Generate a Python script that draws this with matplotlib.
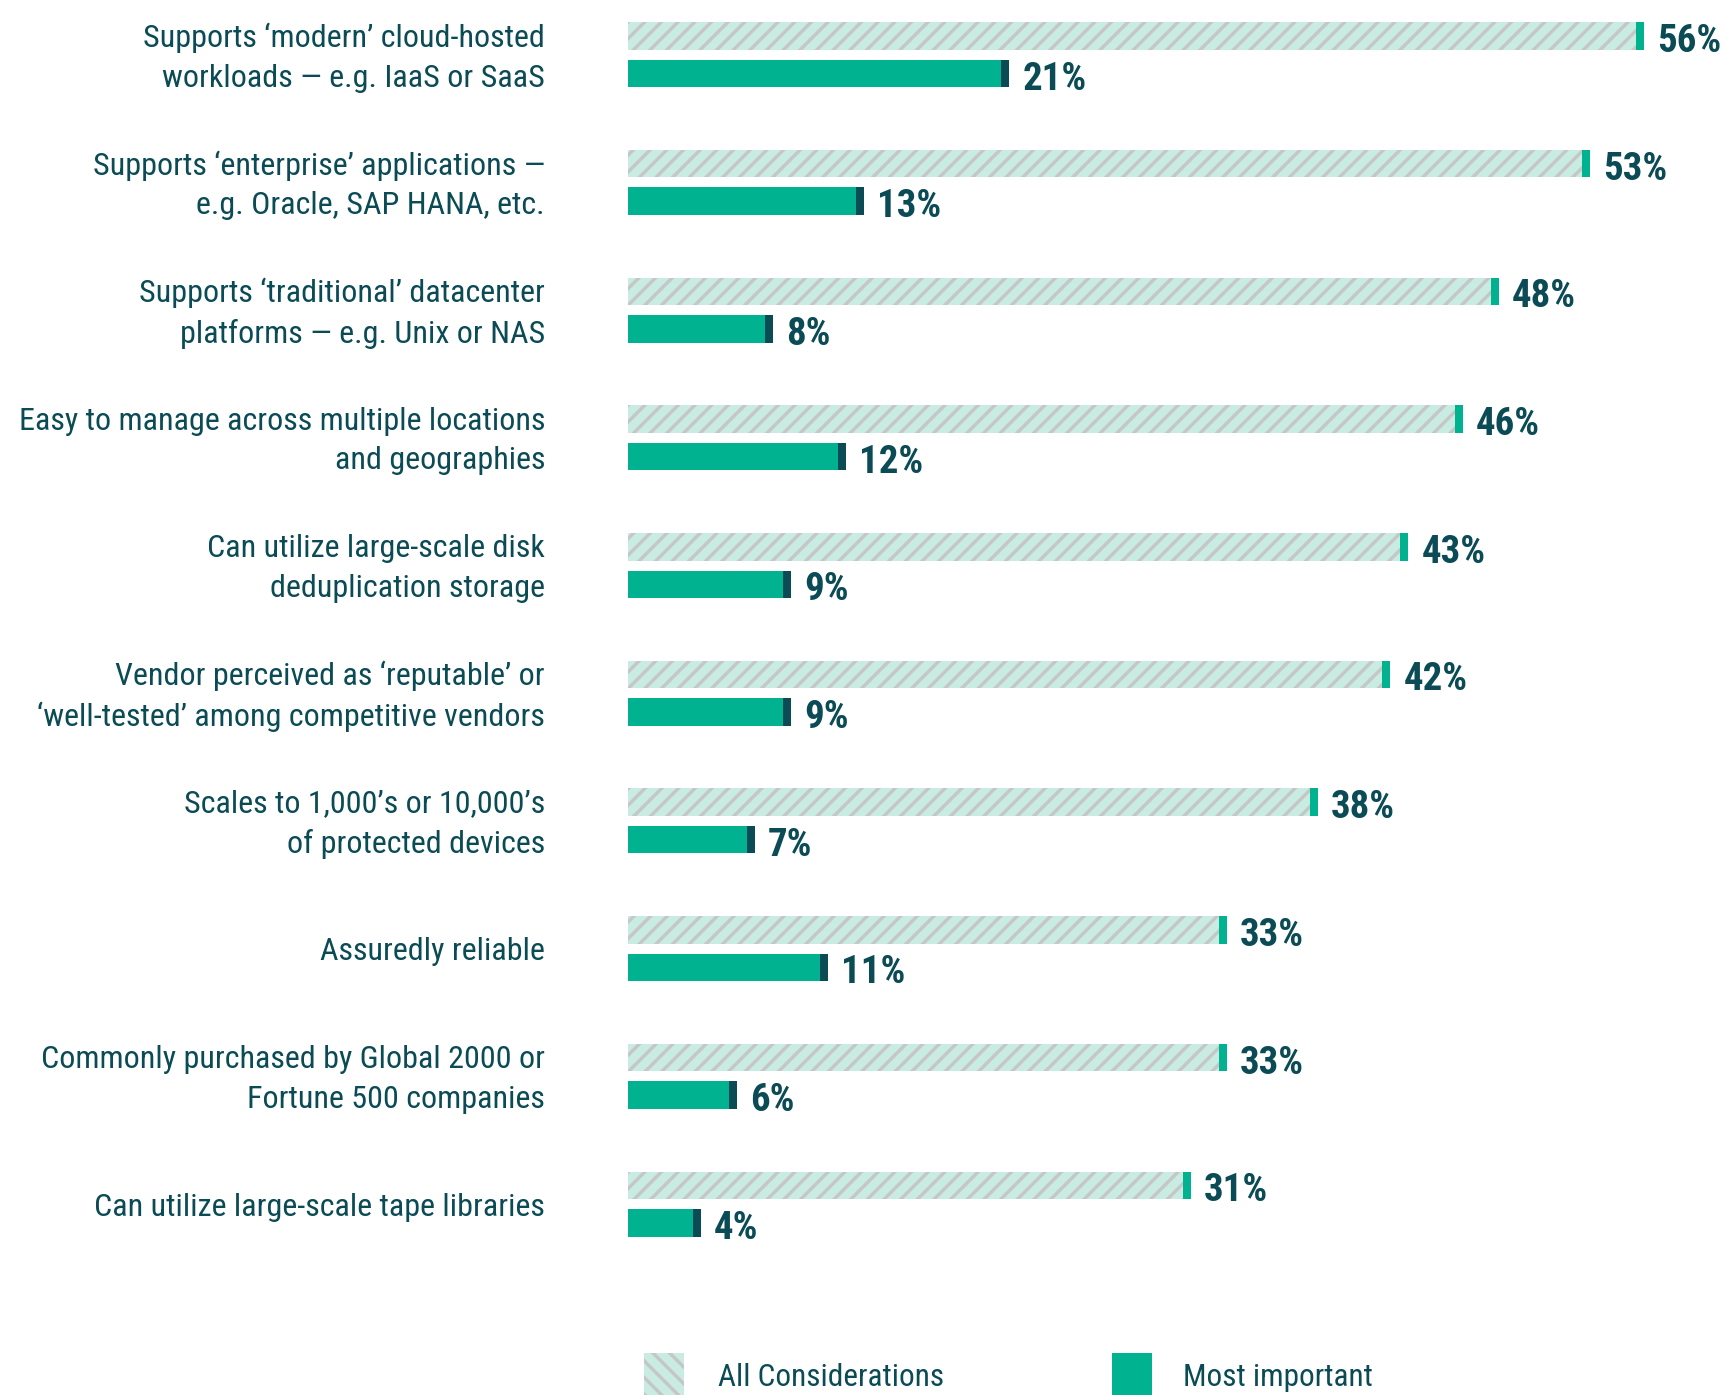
import matplotlib
matplotlib.use("Agg")
import matplotlib.pyplot as plt
from matplotlib.patches import Rectangle

categories = [
    "Supports \u2018modern\u2019 cloud-hosted\nworkloads \u2014 e.g. IaaS or SaaS",
    "Supports \u2018enterprise\u2019 applications \u2014\ne.g. Oracle, SAP HANA, etc.",
    "Supports \u2018traditional\u2019 datacenter\nplatforms \u2014 e.g. Unix or NAS",
    "Easy to manage across multiple locations\nand geographies",
    "Can utilize large-scale disk\ndeduplication storage",
    "Vendor perceived as \u2018reputable\u2019 or\n\u2018well-tested\u2019 among competitive vendors",
    "Scales to 1,000\u2019s or 10,000\u2019s\nof protected devices",
    "Assuredly reliable",
    "Commonly purchased by Global 2000 or\nFortune 500 companies",
    "Can utilize large-scale tape libraries",
]
all_considerations = [56, 53, 48, 46, 43, 42, 38, 33, 33, 31]
most_important = [21, 13, 8, 12, 9, 9, 7, 11, 6, 4]
legend_labels = ["All Considerations", "Most important"]

TEAL = "#00b290"
DARK = "#0a4b55"
MINT = "#c8ebe2"
GREY = "#c6c6c6"

plt.rcParams["font.family"] = ["Roboto Condensed", "Roboto", "DejaVu Sans"]
plt.rcParams["hatch.linewidth"] = 2.4
plt.rcParams["hatch.color"] = GREY

W, H = 1726, 1395
fig = plt.figure(figsize=(W / 100, H / 100), dpi=100)

x0 = 628
ppu = 18.15
xmax = 60
ax = fig.add_axes([x0 / W, 0, xmax * ppu / W, 1])
gap = 127.7
c0 = 54.75
ax.set_xlim(0, xmax)
ax.set_ylim((H - c0) / gap, -c0 / gap)
ax.axis("off")

bh = 27.5 / gap
off = 18.75 / gap
cap = 8 / ppu
vshift = 5.5 / gap

for i, (a, m) in enumerate(zip(all_considerations, most_important)):
    ya = i - off
    ym = i + off
    ax.barh(ya, a - cap, height=bh, left=0, color=MINT, hatch="//", edgecolor=GREY, linewidth=0)
    ax.barh(ya, cap, height=bh, left=a - cap, color=TEAL, linewidth=0)
    ax.barh(ym, m - cap, height=bh, left=0, color=TEAL, linewidth=0)
    ax.barh(ym, cap, height=bh, left=m - cap, color=DARK, linewidth=0)
    ax.text(a + 13 / ppu, ya + vshift, f"{a}%", va="center", ha="left", fontsize=28,
            fontweight="bold", color=DARK, clip_on=False)
    ax.text(m + 13 / ppu, ym + vshift, f"{m}%", va="center", ha="left", fontsize=28,
            fontweight="bold", color=DARK, clip_on=False)
    fig.text(545 / W, 1 - (c0 + gap * i + 3) / H, categories[i], ha="right", va="center",
             fontsize=23, color=DARK, linespacing=1.45)

lp1 = Rectangle((644 / W, 0), 40 / W, (H - 1353) / H, transform=fig.transFigure,
                facecolor=MINT, hatch="\\\\", edgecolor=GREY, linewidth=0)
lp2 = Rectangle((1112 / W, 0), 40 / W, (H - 1353) / H, transform=fig.transFigure,
                facecolor=TEAL, linewidth=0)
fig.patches.extend([lp1, lp2])
fig.text(718 / W, 1 - 1377 / H, legend_labels[0], ha="left", va="center", fontsize=22.5, color=DARK)
fig.text(1183 / W, 1 - 1377 / H, legend_labels[1], ha="left", va="center", fontsize=22.5, color=DARK)

fig.savefig("out.png", dpi=100, facecolor="white")
